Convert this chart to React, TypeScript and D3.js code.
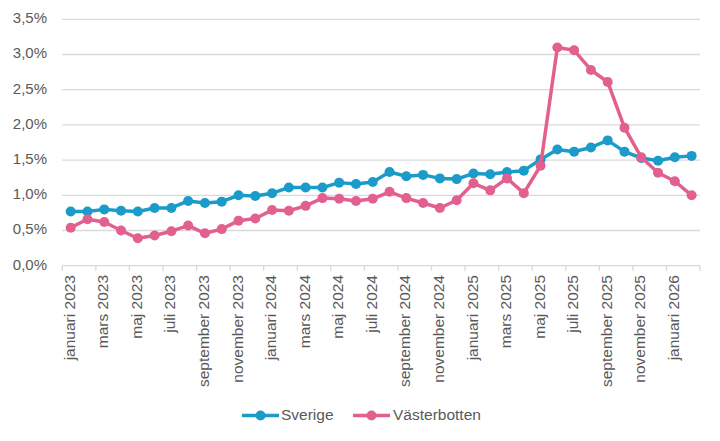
import React from 'react';
import * as d3 from 'd3';

const months = [
  'januari 2023', 'februari 2023', 'mars 2023', 'april 2023', 'maj 2023', 'juni 2023',
  'juli 2023', 'augusti 2023', 'september 2023', 'oktober 2023', 'november 2023', 'december 2023',
  'januari 2024', 'februari 2024', 'mars 2024', 'april 2024', 'maj 2024', 'juni 2024',
  'juli 2024', 'augusti 2024', 'september 2024', 'oktober 2024', 'november 2024', 'december 2024',
  'januari 2025', 'februari 2025', 'mars 2025', 'april 2025', 'maj 2025', 'juni 2025',
  'juli 2025', 'augusti 2025', 'september 2025', 'oktober 2025', 'november 2025', 'december 2025',
  'januari 2026', 'februari 2026',
];

// andel i procent
const sverige = [
  0.77, 0.77, 0.80, 0.78, 0.77, 0.82, 0.82, 0.92, 0.89, 0.91, 1.00, 0.99,
  1.03, 1.11, 1.11, 1.11, 1.18, 1.16, 1.19, 1.33, 1.27, 1.29, 1.24, 1.23,
  1.31, 1.30, 1.33, 1.35, 1.51, 1.65, 1.62, 1.68, 1.78, 1.62, 1.53, 1.49,
  1.54, 1.56,
];

const vasterbotten = [
  0.54, 0.66, 0.62, 0.50, 0.39, 0.43, 0.49, 0.57, 0.46, 0.52, 0.64, 0.67,
  0.79, 0.78, 0.85, 0.96, 0.95, 0.92, 0.95, 1.05, 0.96, 0.89, 0.82, 0.93,
  1.17, 1.07, 1.24, 1.03, 1.42, 3.10, 3.06, 2.78, 2.61, 1.96, 1.54, 1.32,
  1.20, 1.00,
];

const yTicks = [0, 0.5, 1.0, 1.5, 2.0, 2.5, 3.0, 3.5];

const series = [
  { name: 'Sverige', values: sverige, color: '#1a9bc9' },
  { name: 'Västerbotten', values: vasterbotten, color: '#e2608f' },
];

const W = 720;
const H = 441;
const FONT = '"Liberation Sans", Arial, sans-serif';

export default function App() {
  const x = d3.scaleBand<string>().domain(months).range([62.3, 700]).padding(0);
  const y = d3.scaleLinear().domain([0, 3.5]).range([265.7, 19.3]);
  const cx = (m: string) => (x(m) || 0) + x.bandwidth() / 2;

  const line = d3
    .line<number>()
    .x((_, i) => cx(months[i]))
    .y((d) => y(d));

  const fmt = (v: number) => v.toFixed(1).replace('.', ',') + '%';

  const legendItems = [
    { ...series[0], lx: 242, tx: 281 },
    { ...series[1], lx: 353, tx: 393 },
  ];

  return (
    <div style={{ position: 'fixed', left: 0, top: 0 }}>
      <svg width={W} height={H} style={{ display: 'block', background: '#fff' }}>
        {/* grid */}
        {yTicks.map((t) => (
          <g key={t}>
            <line
              x1={62.3}
              x2={700}
              y1={y(t)}
              y2={y(t)}
              stroke="#d9d9d9"
              strokeWidth={1.3}
            />
            <text
              x={47}
              y={y(t)}
              textAnchor="end"
              dominantBaseline="middle"
              fontFamily={FONT}
              fontSize={15}
              fill="#595959"
            >
              {fmt(t)}
            </text>
          </g>
        ))}

        {/* x ticks */}
        {months.map((m, i) =>
          i % 2 === 0 ? (
            <line
              key={'t' + m}
              x1={x(m) || 0}
              x2={x(m) || 0}
              y1={y(0)}
              y2={y(0) + 5}
              stroke="#d9d9d9"
              strokeWidth={1.3}
            />
          ) : null
        )}
        <line x1={700} x2={700} y1={y(0)} y2={y(0) + 5} stroke="#d9d9d9" strokeWidth={1.3} />

        {/* x labels */}
        {months.map((m, i) =>
          i % 2 === 0 ? (
            <text
              key={'l' + m}
              transform={`translate(${cx(m)},275) rotate(-90)`}
              textAnchor="end"
              dominantBaseline="middle"
              fontFamily={FONT}
              fontSize={15.5}
              fill="#595959"
            >
              {m}
            </text>
          ) : null
        )}

        {/* series */}
        {series.map((s) => (
          <g key={s.name}>
            <path d={line(s.values) || ''} fill="none" stroke={s.color} strokeWidth={3.5} strokeLinejoin="round" />
            {s.values.map((v, i) => (
              <circle key={i} cx={cx(months[i])} cy={y(v)} r={5} fill={s.color} />
            ))}
          </g>
        ))}

        {/* legend */}
        {legendItems.map((s) => (
          <g key={'lg' + s.name}>
            <line x1={s.lx} x2={s.lx + 37} y1={415.5} y2={415.5} stroke={s.color} strokeWidth={3.5} />
            <circle cx={s.lx + 18.5} cy={415.5} r={5} fill={s.color} />
            <text
              x={s.tx}
              y={415.5}
              dominantBaseline="middle"
              fontFamily={FONT}
              fontSize={15.5}
              fill="#595959"
            >
              {s.name}
            </text>
          </g>
        ))}
      </svg>
    </div>
  );
}
